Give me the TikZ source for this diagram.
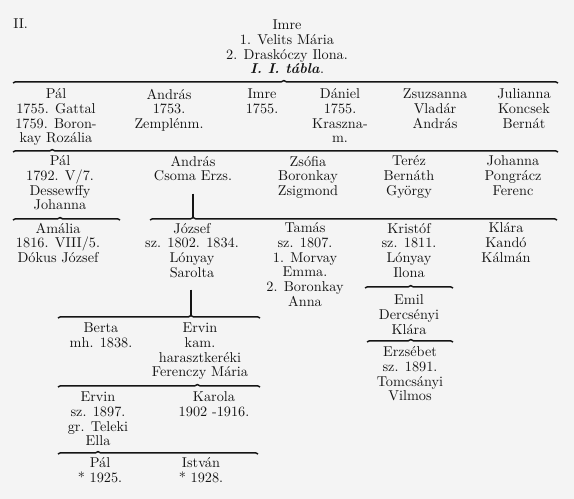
\documentclass[tikz,border=0pt]{standalone}
\usetikzlibrary{decorations.pathreplacing}
\definecolor{bg}{HTML}{F4F4F4}
\definecolor{ink}{HTML}{141414}
\begin{document}
\begin{tikzpicture}[x=0.75pt,y=-0.75pt,
  person/.style={align=center, anchor=north, inner sep=0pt,
    font=\fontsize{10.7}{11}\selectfont, text=ink, execute at begin node=\strut},
  famline/.style={draw=ink, line width=1.1pt, decorate,
    decoration={brace, amplitude=1.8pt, aspect=#1}},
  famline/.default=0.5,
  desc/.style={draw=ink, line width=1.4pt, shorten <=6pt}
]
\useasboundingbox (0,0) rectangle (574,499);
\fill[bg] (0,0) rectangle (574,499);

% title
\node[person, anchor=north west] (roman) at (13,17.7) {II.};
\node[person] (imre0) at (287,19.7) {Imre\\1. Velits Mária\\2. Draskóczy Ilona.\\\textbf{\textit{I. I. tábla}}.};

% row 1
\node[person] (pal1) at (56,88.7) {Pál\\1755. Gattal\\1759. Boron-\\kay Rozália};
\node[person] (andras1) at (169,88.7) {András\\1753.\\Zemplénm.};
\node[person] (imre1) at (262,88.7) {Imre\\1755.};
\node[person] (daniel1) at (340,88.7) {Dániel\\1755.\\Kraszna-\\m.};
\node[person] (zsuzsa1) at (435,88.7) {Zsuzsanna\\Vladár\\András};
\node[person] (juli1) at (524,88.7) {Julianna\\Koncsek\\Bernát};

% row 2
\node[person] (pal2) at (60,155.7) {Pál\\1792. V/7.\\Dessewffy\\Johanna};
\node[person] (andras2) at (193,155.7) {András\\Csoma Erzs.};
\node[person] (zsofia2) at (308,155.7) {Zsófia\\Boronkay\\Zsigmond};
\node[person] (terez2) at (409,155.7) {Teréz\\Bernáth\\György};
\node[person] (johanna2) at (513,155.7) {Johanna\\Pongrácz\\Ferenc};

% row 3
\node[person] (amalia3) at (58,222.7) {Amália\\1816. VIII/5.\\Dókus József};
\node[person] (jozsef3) at (192,222.7) {József\\sz. 1802. 1834.\\Lónyay\\Sarolta};
\node[person] (tamas3) at (305,222.7) {Tamás\\sz. 1807.\\1. Morvay\\Emma.\\2. Boronkay\\Anna};
\node[person] (kristof3) at (409,222.7) {Kristóf\\sz. 1811.\\Lónyay\\Ilona};
\node[person] (klara3) at (506,222.7) {Klára\\Kandó\\Kálmán};

% Kristóf's line
\node[person] (emil4) at (409,294.7) {Emil\\Dercsényi\\Klára};
\node[person] (erzsebet5) at (410,346.7) {Erzsébet\\sz. 1891.\\Tomcsányi\\Vilmos};

% József's line
\node[person] (berta4) at (101,322.7) {Berta\\mh. 1838.};
\node[person] (ervin4) at (200,322.7) {Ervin\\kam.\\harasztkeréki\\Ferenczy Mária};
\node[person] (ervin5) at (98,391.7) {Ervin\\sz. 1897.\\gr. Teleki\\Ella};
\node[person] (karola5) at (214,391.7) {Karola\\1902 -1916.};
\node[person] (pal6) at (100,457.7) {Pál\\* 1925.};
\node[person] (istvan6) at (201,457.7) {István\\* 1928.};

% line end points
\coordinate (b0l) at (13,83);   \coordinate (b0r) at (558,83);
\coordinate (b1l) at (13,152);  \coordinate (b1r) at (558,152);
\coordinate (b2al) at (13,220); \coordinate (b2ar) at (120,220);
\coordinate (b2bl) at (150,220);\coordinate (b2br) at (557,220);
\coordinate (b3al) at (58,318); \coordinate (b3ar) at (260,318);
\coordinate (b3bl) at (365,288);\coordinate (b3br) at (453,288);
\coordinate (b4al) at (58,387); \coordinate (b4ar) at (260,387);
\coordinate (b4bl) at (367,342);\coordinate (b4br) at (453,342);
\coordinate (b5l) at (58,454);  \coordinate (b5r) at (258,454);
\coordinate (t2b) at (193,217.7);
\coordinate (t3a) at (191,315.7);

\draw[famline=0.497] (b0l) -- (b0r);
\draw[famline=0.072] (b1l) -- (b1r);
\draw[famline=0.44] (b2al) -- (b2ar);
\draw[famline=0.106] (b2bl) -- (b2br);
\draw[famline=0.658] (b3al) -- (b3ar);
\draw[famline=0.52] (b3bl) -- (b3br);
\draw[famline=0.69] (b4al) -- (b4ar);
\draw[famline=0.51] (b4bl) -- (b4br);
\draw[famline=0.2] (b5l) -- (b5r);

\draw[desc] (t2b |- andras2.south) -- (t2b);
\draw[desc] (t3a |- jozsef3.south) -- (t3a);
\end{tikzpicture}
\end{document}
